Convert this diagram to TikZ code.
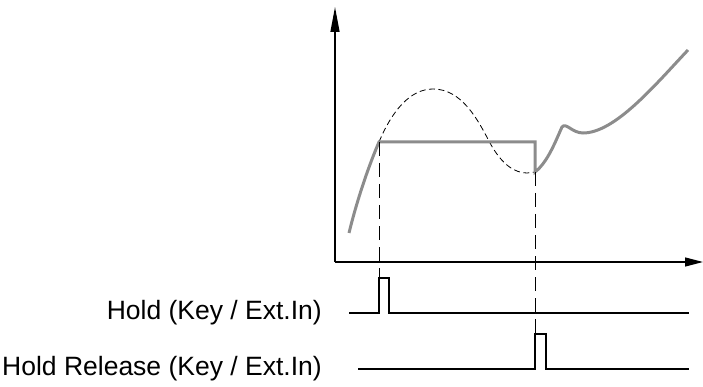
\documentclass[tikz,border=0pt]{standalone}
\usepackage{fontspec}
\setmainfont{Liberation Sans}
\usetikzlibrary{arrows.meta}

\begin{document}
\begin{tikzpicture}[x=1pt, y=-1pt]
    % Define colours
    \definecolor{curveColour}{HTML}{8C8C8C}
    \definecolor{lineColour}{HTML}{000000}

    % Define signal levels and pulse size
    \def\holdLevel{313}
    \def\releaseLevel{369}
    \def\pulseHeight{35}
    \def\pulseWidth{10}

    % Fix the picture size
    \useasboundingbox (0,0) rectangle (703,387);

    % Define coordinates of the axes
    \coordinate (O) at (335,262);
    \coordinate (yEnd) at (335,7);
    \coordinate (xEnd) at (703,262);

    % Draw axes
    \draw[line width=1.3pt, lineColour, -{Triangle[length=25pt,width=9pt]}] (O) -- (yEnd);
    \draw[line width=1.3pt, lineColour, -{Triangle[length=18pt,width=9pt]}] (O) -- (xEnd);

    % Define coordinates where the hold starts and ends
    \coordinate (A) at (379,142);
    \coordinate (B) at (535,142);
    \coordinate (C) at (535,172);

    % Draw the measured value without hold (dashed)
    \draw[line width=0.8pt, lineColour, dash pattern=on 6pt off 3.5pt]
        (A) .. controls (392,111) and (410,89) .. (433,89)
            .. controls (462,89) and (478,120) .. (490,143)
            .. controls (502,165) and (515,173) .. (527,173)
            .. controls (530,173) and (533,172) .. (C);

    % Draw the displayed value with hold
    \draw[line width=3pt, curveColour, line join=miter]
        (349,233) .. controls (357,200) and (369,165) .. (A)
        -- (B) -- (C)
        .. controls (548,162) and (556,140) .. (562,127)
        .. controls (566,122) and (572,133) .. (583,133)
        .. controls (615,133) and (655,85) .. (688,50);

    % Define coordinates of the pulses
    \coordinate (holdStart) at (349,\holdLevel);
    \coordinate (holdRise) at (379,\holdLevel-\pulseHeight);
    \coordinate (holdEnd) at (689,\holdLevel);
    \coordinate (releaseStart) at (358,\releaseLevel);
    \coordinate (releaseRise) at (535,\releaseLevel-\pulseHeight);
    \coordinate (releaseEnd) at (689,\releaseLevel);

    % Draw the guide lines down to the pulses
    \draw[line width=0.8pt, lineColour, dash pattern=on 14pt off 7pt] (A) -- (holdRise);
    \draw[line width=0.8pt, lineColour, dash pattern=on 14pt off 7pt] (C) -- (releaseRise);

    % Draw the hold pulse
    \draw[line width=1.2pt, lineColour]
        (holdStart) -| (holdRise) -- ++(\pulseWidth,0) |- (holdEnd);

    % Draw the hold release pulse
    \draw[line width=1.2pt, lineColour]
        (releaseStart) -| (releaseRise) -- ++(\pulseWidth+1,0) |- (releaseEnd);

    % Label the signals
    \node[anchor=east, inner sep=0pt, font=\fontsize{26.5}{30}\selectfont] (holdLabel)
        at (322,\holdLevel) {Hold (Key / Ext.In)};
    \node[anchor=east, inner sep=0pt, font=\fontsize{26.5}{30}\selectfont] (releaseLabel)
        at (322,\releaseLevel) {Hold Release (Key / Ext.In)};

\end{tikzpicture}
\end{document}
